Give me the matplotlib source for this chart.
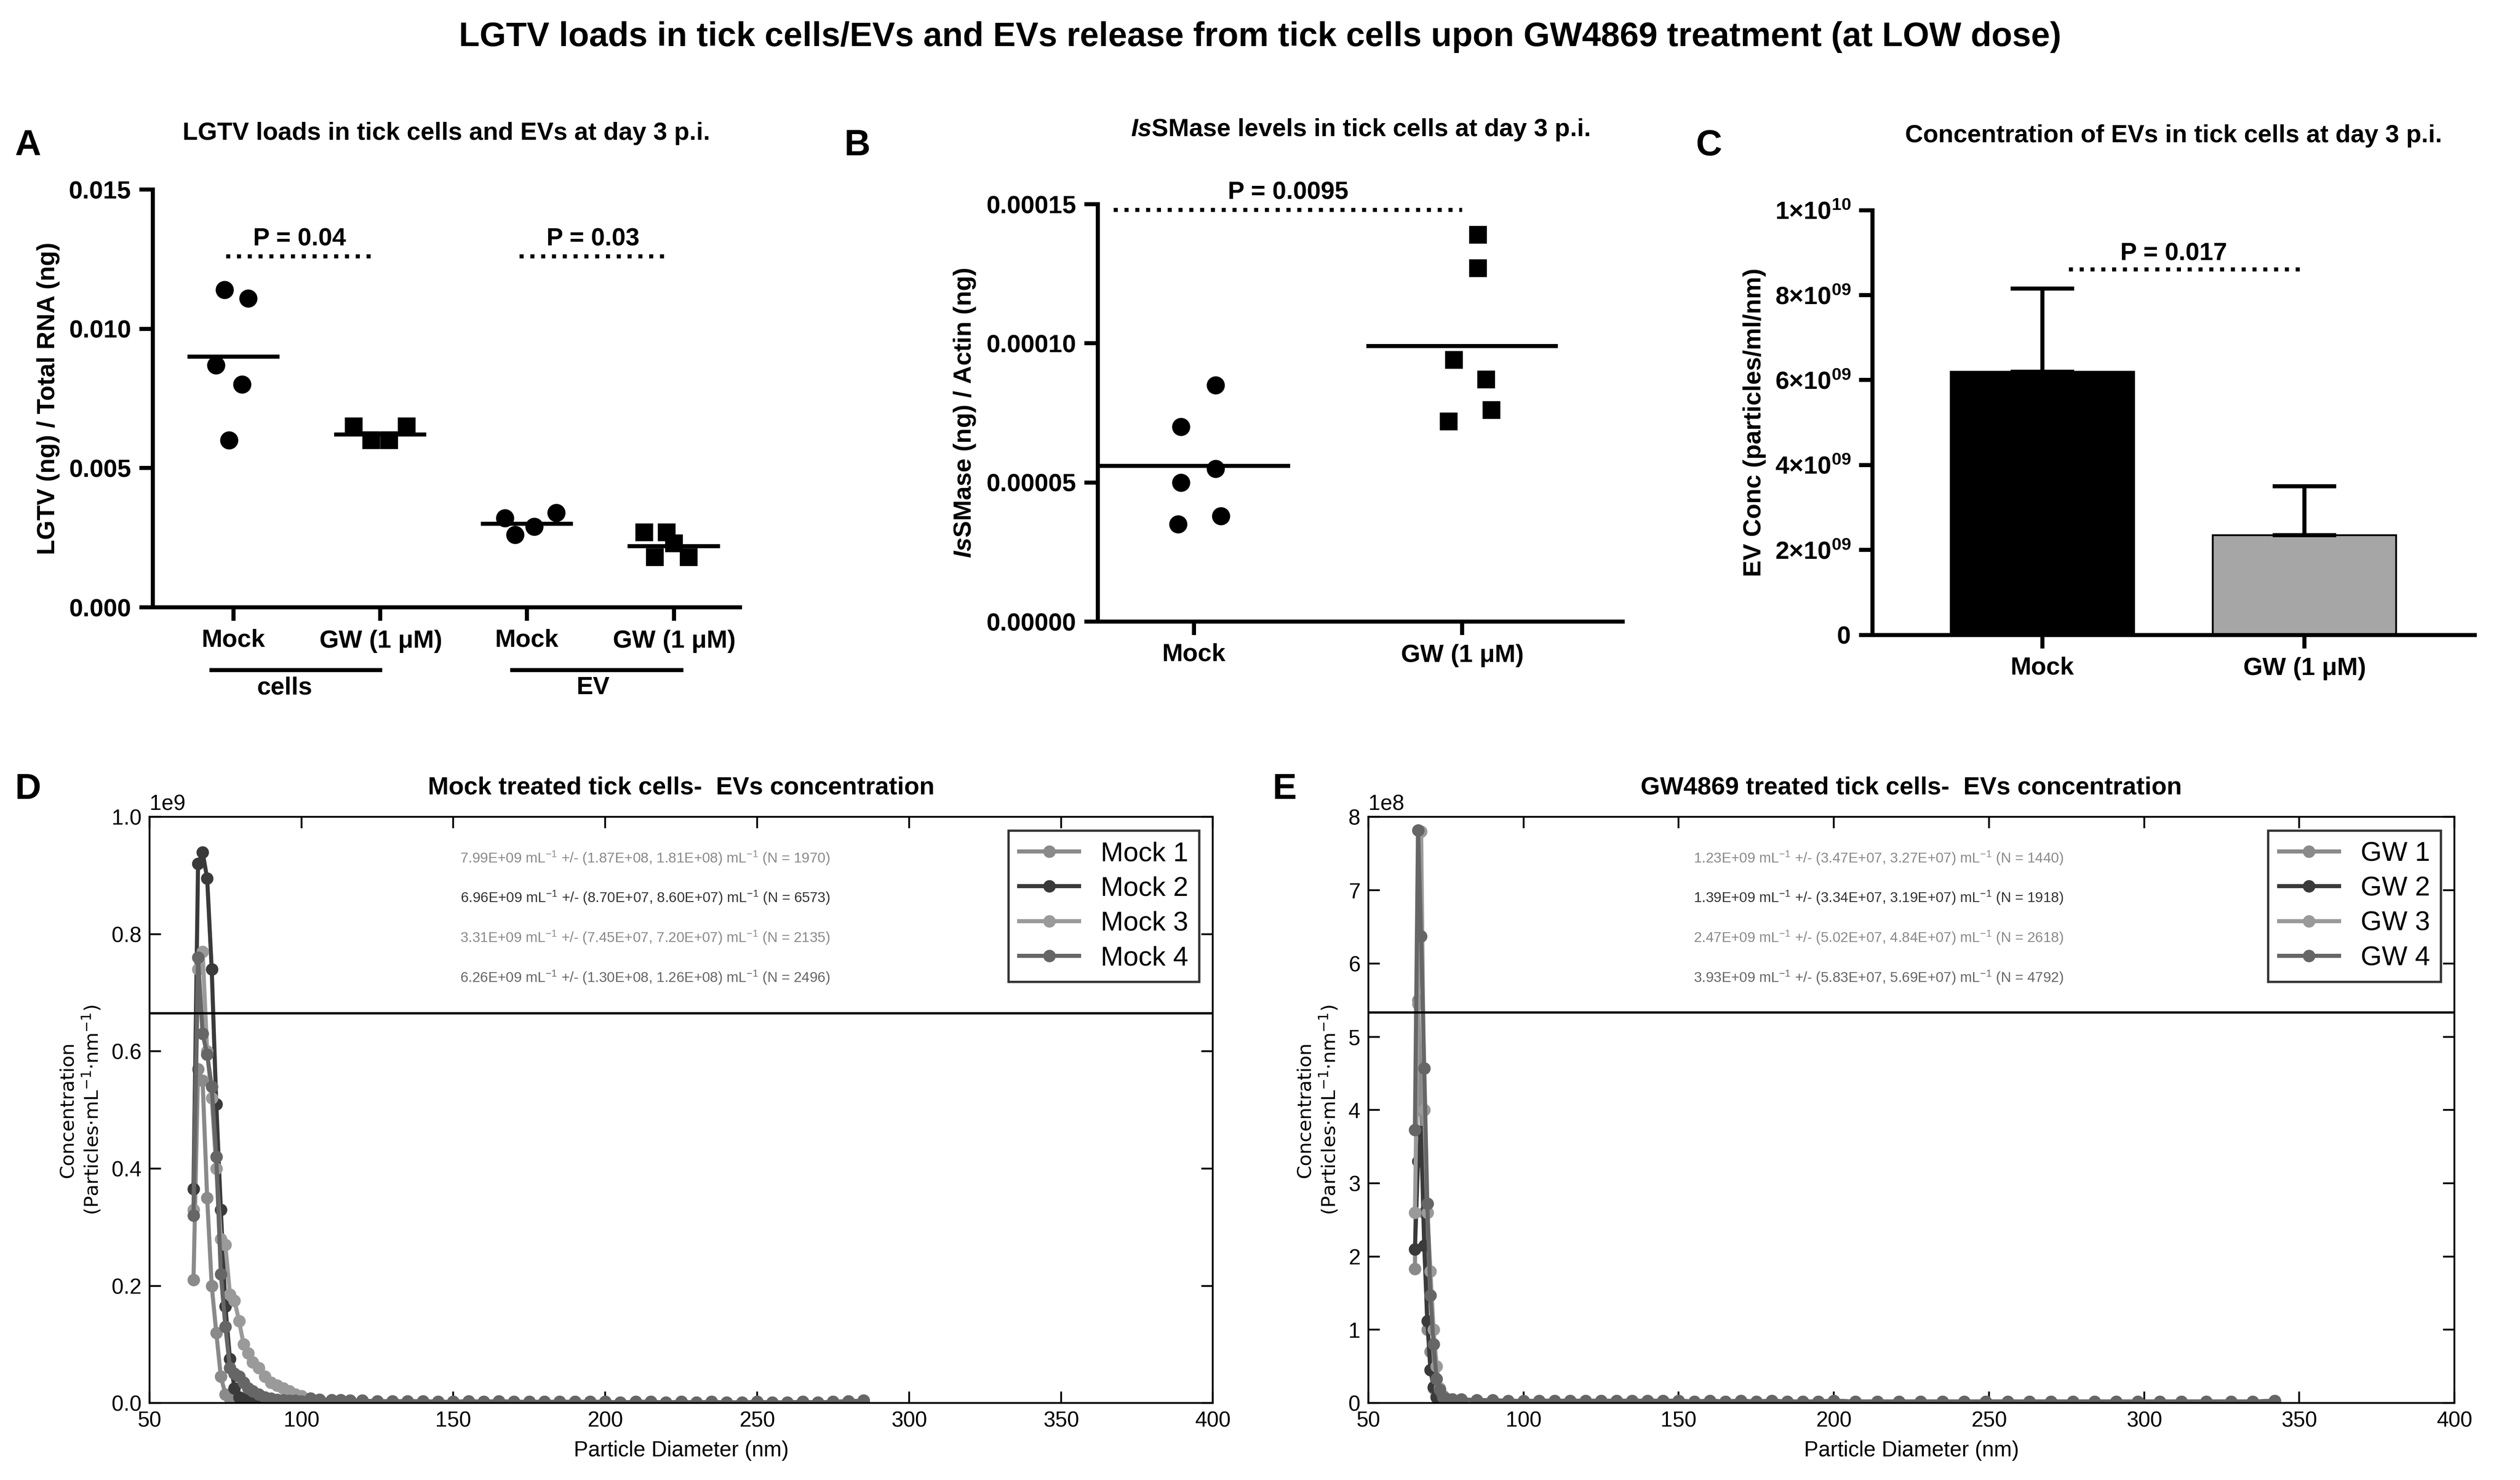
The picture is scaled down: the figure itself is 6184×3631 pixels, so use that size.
import matplotlib
matplotlib.use('Agg')
import matplotlib.pyplot as plt
from matplotlib.transforms import blended_transform_factory
import numpy as np

plt.rcParams['font.family'] = 'Liberation Sans'
plt.rcParams['mathtext.fontset'] = 'custom'
plt.rcParams['mathtext.default'] = 'regular'
plt.rcParams['mathtext.it'] = 'Liberation Sans:italic:bold'

# ---- panel A data
a_groups = ['Mock', 'GW (1 $\\mu$M)', 'Mock', 'GW (1 $\\mu$M)']
a_mock_cells = [0.0114, 0.0111, 0.0087, 0.0080, 0.0060]
a_gw_cells = [0.0065, 0.0060, 0.0060, 0.0065]
a_mock_ev = [0.0032, 0.0026, 0.0029, 0.0034]
a_gw_ev = [0.0027, 0.0027, 0.0023, 0.0018, 0.0018]
a_means = [0.0090, 0.0062, 0.0030, 0.0022]
a_pvals = ['P = 0.04', 'P = 0.03']

# ---- panel B data
b_groups = ['Mock', 'GW (1 $\\mu$M)']
b_mock = [0.000085, 0.000070, 0.000055, 0.000050, 0.000038, 0.000035]
b_gw = [0.000139, 0.000127, 0.000094, 0.000087, 0.000076, 0.000072]
b_means = [0.000056, 0.000099]

# ---- panel C data
c_groups = ['Mock', 'GW (1 $\\mu$M)']
c_vals = [6.2e9, 2.35e9]
c_err = [1.95e9, 1.15e9]

# ---- panel D data (diameter nm, concentration)
peak_x = [64.5, 66, 67.5, 69, 70.5, 72, 73.5, 75, 76.5, 78, 79.5, 81, 82.5, 84, 86, 88, 90, 92, 94, 96, 98, 100]
tail_x = [103, 106, 110, 113, 116, 120, 125, 130, 135, 140, 145, 150, 155, 160, 165, 170, 175, 180, 185,
          190, 195, 200, 205, 210, 215, 220, 225, 230, 235, 240, 245, 250, 255, 260, 265, 270, 275, 280, 285]
mock1 = [0.21, 0.57, 0.55, 0.35, 0.20, 0.12, 0.045, 0.015, 0.008, 0.006, 0.005, 0.005, 0.004, 0.004, 0.004, 0.004, 0.003, 0.003, 0.003, 0.003, 0.003, 0.003]
mock2 = [0.365, 0.92, 0.94, 0.895, 0.74, 0.51, 0.33, 0.165, 0.075, 0.025, 0.01, 0.008, 0.006, 0.005, 0.004, 0.004, 0.003, 0.003, 0.003, 0.003, 0.003, 0.003]
mock3 = [0.33, 0.74, 0.77, 0.60, 0.52, 0.40, 0.28, 0.27, 0.185, 0.175, 0.14, 0.10, 0.085, 0.07, 0.06, 0.045, 0.035, 0.03, 0.025, 0.02, 0.015, 0.012]
mock4 = [0.32, 0.76, 0.63, 0.595, 0.54, 0.42, 0.22, 0.13, 0.06, 0.05, 0.045, 0.035, 0.025, 0.02, 0.015, 0.01, 0.008, 0.006, 0.005, 0.004, 0.004, 0.003]
mock_tail = [0.008, 0.006, 0.005, 0.005, 0.004, 0.004, 0.003, 0.003, 0.003, 0.003, 0.002, 0.002, 0.003, 0.002,
             0.003, 0.002, 0.002, 0.002, 0.002, 0.002, 0.002, 0.002, 0.001, 0.002, 0.002, 0.001, 0.002, 0.001,
             0.002, 0.001, 0.001, 0.002, 0.001, 0.001, 0.002, 0.001, 0.002, 0.003, 0.004]
mock_labels = ['Mock 1', 'Mock 2', 'Mock 3', 'Mock 4']
mock_notes = ['7.99E+09 mL$^{-1}$ +/- (1.87E+08, 1.81E+08) mL$^{-1}$ (N = 1970)',
              '6.96E+09 mL$^{-1}$ +/- (8.70E+07, 8.60E+07) mL$^{-1}$ (N = 6573)',
              '3.31E+09 mL$^{-1}$ +/- (7.45E+07, 7.20E+07) mL$^{-1}$ (N = 2135)',
              '6.26E+09 mL$^{-1}$ +/- (1.30E+08, 1.26E+08) mL$^{-1}$ (N = 2496)']

# ---- panel E data
e_peak_x = [65, 66, 67, 68, 69, 70, 71, 72, 73, 74, 75, 77, 80, 85, 90, 95, 100]
e_tail_x = [105, 110, 115, 120, 125, 130, 135, 140, 145, 150, 155, 160, 165, 170, 175, 180, 185, 190, 195, 200,
            207, 214, 221, 228, 235, 242, 249, 256, 263, 270, 277, 284, 291, 298, 305, 312, 320, 328, 335, 342]
gw1 = [1.83, 5.5, 4.0, 2.6, 1.0, 0.7, 0.2, 0.1, 0.05, 0.04, 0.03, 0.03, 0.02, 0.02, 0.02, 0.02, 0.02]
gw2 = [2.1, 3.3, 3.7, 2.15, 1.12, 0.45, 0.22, 0.08, 0.05, 0.04, 0.03, 0.02, 0.02, 0.02, 0.02, 0.02, 0.02]
gw3 = [2.6, 5.45, 7.8, 4.0, 2.6, 1.8, 1.0, 0.5, 0.2, 0.1, 0.06, 0.05, 0.04, 0.03, 0.03, 0.03, 0.02]
gw4 = [3.73, 7.82, 6.37, 4.57, 2.72, 1.47, 0.8, 0.33, 0.18, 0.08, 0.06, 0.05, 0.05, 0.04, 0.04, 0.03, 0.03]
gw_tail = [0.03, 0.03, 0.03, 0.03, 0.03, 0.03, 0.03, 0.03, 0.03, 0.03, 0.02, 0.03, 0.02, 0.03, 0.02, 0.03, 0.02,
           0.02, 0.02, 0.03, 0.02, 0.02, 0.02, 0.02, 0.02, 0.02, 0.02, 0.02, 0.02, 0.02, 0.02, 0.02, 0.02, 0.02,
           0.02, 0.02, 0.02, 0.02, 0.02, 0.03]
gw_labels = ['GW 1', 'GW 2', 'GW 3', 'GW 4']
gw_notes = ['1.23E+09 mL$^{-1}$ +/- (3.47E+07, 3.27E+07) mL$^{-1}$ (N = 1440)',
            '1.39E+09 mL$^{-1}$ +/- (3.34E+07, 3.19E+07) mL$^{-1}$ (N = 1918)',
            '2.47E+09 mL$^{-1}$ +/- (5.02E+07, 4.84E+07) mL$^{-1}$ (N = 2618)',
            '3.93E+09 mL$^{-1}$ +/- (5.83E+07, 5.69E+07) mL$^{-1}$ (N = 4792)']

series_colors = ['#8a8a8a', '#3a3a3a', '#9a9a9a', '#666666']
note_colors = ['#8a8a8a', '#333333', '#8a8a8a', '#666666']

fig = plt.figure(figsize=(15.46, 9.0775), dpi=400)
fig.text(0.5, 0.975, 'LGTV loads in tick cells/EVs and EVs release from tick cells upon GW4869 treatment (at LOW dose)',
         ha='center', va='center', fontsize=15, fontweight='bold')


def prism_axes(ax):
    for s in ['top', 'right']:
        ax.spines[s].set_visible(False)
    for s in ['left', 'bottom']:
        ax.spines[s].set_linewidth(1.8)
    ax.tick_params(width=1.8, length=6, labelsize=11)
    for lab in ax.get_yticklabels() + ax.get_xticklabels():
        lab.set_fontweight('bold')


# ================= A
axA = fig.add_axes([0.0606, 0.5896, 0.233, 0.2823])
xs = [0, 1, 2, 3]
axA.plot([-0.06, 0.1, -0.12, 0.06, -0.03], a_mock_cells, 'ko', ms=7)
axA.plot([0.82, 0.94, 1.06, 1.18], a_gw_cells, 'ks', ms=7)
axA.plot([1.85, 1.92, 2.05, 2.2], a_mock_ev, 'ko', ms=7)
axA.plot([2.8, 2.95, 3.0, 2.87, 3.1], a_gw_ev, 'ks', ms=7)
for x, m in zip(xs, a_means):
    axA.plot([x - 0.3, x + 0.3], [m, m], 'k-', lw=1.8)
axA.plot([-0.05, 0.95], [0.0126, 0.0126], 'k:', lw=1.8)
axA.plot([1.95, 2.95], [0.0126, 0.0126], 'k:', lw=1.8)
axA.text(0.45, 0.0128, a_pvals[0], ha='center', va='bottom', fontsize=11, fontweight='bold')
axA.text(2.45, 0.0128, a_pvals[1], ha='center', va='bottom', fontsize=11, fontweight='bold')
axA.set_xlim(-0.55, 3.45)
axA.set_ylim(0, 0.015)
axA.set_yticks([0, 0.005, 0.010, 0.015])
axA.set_yticklabels(['0.000', '0.005', '0.010', '0.015'])
axA.set_xticks(xs)
axA.set_xticklabels(a_groups)
axA.set_ylabel('LGTV (ng) / Total RNA (ng)', fontsize=11, fontweight='bold')
axA.set_title('LGTV loads in tick cells and EVs at day 3 p.i.', fontsize=11, fontweight='bold', pad=22)
prism_axes(axA)
trA = blended_transform_factory(axA.transData, axA.transAxes)
axA.plot([-0.15, 1.0], [-0.15, -0.15], 'k-', lw=1.8, transform=trA, clip_on=False)
axA.plot([1.9, 3.05], [-0.15, -0.15], 'k-', lw=1.8, transform=trA, clip_on=False)
axA.text(0.35, -0.165, 'cells', transform=trA, ha='center', va='top', fontsize=11, fontweight='bold')
axA.text(2.45, -0.165, 'EV', transform=trA, ha='center', va='top', fontsize=11, fontweight='bold')
fig.text(0.006, 0.895, 'A', fontsize=16, fontweight='bold')

# ================= B
axB = fig.add_axes([0.4356, 0.580, 0.2084, 0.282])
axB.plot([0.08, -0.05, 0.08, -0.05, 0.1, -0.06], b_mock, 'ko', ms=7)
axB.plot([1.06, 1.06, 0.97, 1.09, 1.11, 0.95], b_gw, 'ks', ms=7)
for x, m in zip([0, 1], b_means):
    axB.plot([x - 0.35, x + 0.35], [m, m], 'k-', lw=1.8)
axB.plot([-0.3, 1.0], [0.000148, 0.000148], 'k:', lw=1.8)
axB.text(0.35, 0.00015, 'P = 0.0095', ha='center', va='bottom', fontsize=11, fontweight='bold')
axB.set_xlim(-0.36, 1.6)
axB.set_ylim(0, 0.00015)
axB.set_yticks([0, 0.00005, 0.0001, 0.00015])
axB.set_yticklabels(['0.00000', '0.00005', '0.00010', '0.00015'])
axB.set_xticks([0, 1])
axB.set_xticklabels(b_groups)
axB.set_ylabel('$\\mathit{Is}$SMase (ng) / Actin (ng)', fontsize=11, fontweight='bold')
axB.set_title('$\\mathit{Is}$SMase levels in tick cells at day 3 p.i.', fontsize=11, fontweight='bold', pad=30)
prism_axes(axB)
fig.text(0.335, 0.895, 'B', fontsize=16, fontweight='bold')

# ================= C
axC = fig.add_axes([0.743, 0.571, 0.239, 0.287])
axC.bar([0, 1], c_vals, width=0.7, color=['black', '#a6a6a6'], edgecolor='black', linewidth=0.8)
axC.errorbar([0, 1], c_vals, yerr=[[0, 0], c_err], fmt='none', ecolor='black', elinewidth=1.8, capsize=14, capthick=1.8)
axC.plot([0.1, 1.0], [8.6e9, 8.6e9], 'k:', lw=1.8)
axC.text(0.5, 8.7e9, 'P = 0.017', ha='center', va='bottom', fontsize=11, fontweight='bold')
axC.set_xlim(-0.65, 1.65)
axC.set_ylim(0, 1e10)
axC.set_yticks([0, 2e9, 4e9, 6e9, 8e9, 1e10])
axC.set_yticklabels(['0', '2×10$^{09}$', '4×10$^{09}$', '6×10$^{09}$', '8×10$^{09}$', '1×10$^{10}$'])
axC.set_xticks([0, 1])
axC.set_xticklabels(c_groups)
axC.set_ylabel('EV Conc (particles/ml/nm)', fontsize=11, fontweight='bold')
axC.set_title('Concentration of EVs in tick cells at day 3 p.i.', fontsize=11, fontweight='bold', pad=30)
prism_axes(axC)
fig.text(0.673, 0.895, 'C', fontsize=16, fontweight='bold')


# ================= D / E
def nta_axes(rect, xa, xb, series, tail, labels, notes, scale, ylim, hline, title, letter, lx):
    ax = fig.add_axes(rect)
    for ys, lab, col in zip(series, labels, series_colors):
        ax.plot(xa + xb, [v * scale for v in ys + tail], '-o', color=col, lw=1.8, ms=4.5, label=lab)
    ax.axhline(hline * scale, color='black', lw=1.0)
    ax.set_xlim(50, 400)
    ax.set_ylim(0, ylim * scale)
    ax.tick_params(direction='in', top=True, right=True, labelsize=9.5, length=5)
    ax.set_xlabel('Particle Diameter (nm)', fontsize=9.5)
    ax.set_ylabel('Concentration\n(Particles$\\cdot$mL$^{-1}$$\\cdot$nm$^{-1}$)', fontsize=8.5, family='DejaVu Sans')
    ax.yaxis.get_offset_text().set_fontsize(9.5)
    leg = ax.legend(loc='upper right', fontsize=12, fancybox=False, edgecolor='black', handlelength=2.2,
                    borderpad=0.4, labelspacing=0.35)
    leg.get_frame().set_linewidth(1.0)
    for i, (t, c) in enumerate(zip(notes, note_colors)):
        ax.text(0.64, 0.93 - i * 0.068, t, transform=ax.transAxes, ha='right', va='center', fontsize=6.3, color=c)
    ax.set_title(title, fontsize=11, fontweight='bold', pad=10)
    fig.text(lx, 0.478, letter, fontsize=16, fontweight='bold', va='top')
    return ax


axD = nta_axes([0.0593, 0.052, 0.422, 0.396], peak_x, tail_x, [mock1, mock2, mock3, mock4], mock_tail,
               mock_labels, mock_notes, 1e9, 1.0, 0.665, 'Mock treated tick cells-  EVs concentration', 'D', 0.006)
axE = nta_axes([0.543, 0.052, 0.431, 0.396], e_peak_x, e_tail_x, [gw1, gw2, gw3, gw4], gw_tail,
               gw_labels, gw_notes, 1e8, 8.0, 5.33, 'GW4869 treated tick cells-  EVs concentration', 'E', 0.505)

fig.savefig('out.png', dpi=400)
